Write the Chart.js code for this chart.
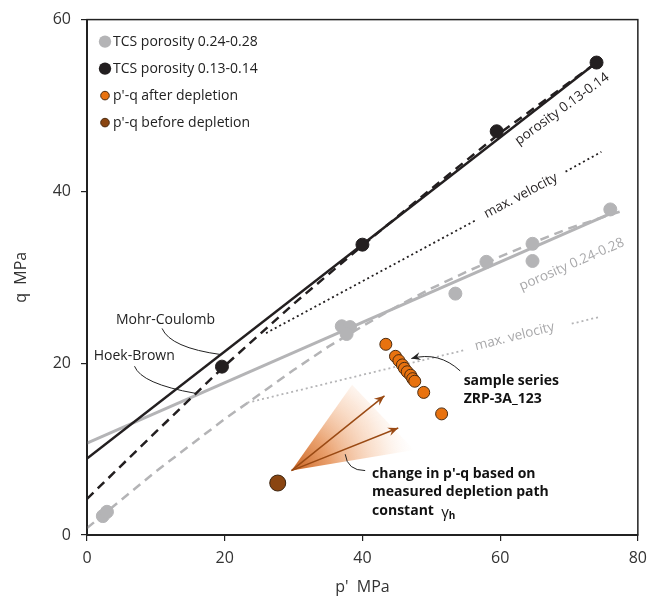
<!DOCTYPE html>
<html>
<head>
<meta charset="utf-8">
<script src="https://cdn.jsdelivr.net/npm/chart.js@4.4.1/dist/chart.umd.min.js"></script>
<style>
  html, body { margin: 0; padding: 0; background: #fff; }
  #wrap { width: 655px; height: 602px; }
</style>
</head>
<body>
<div id="wrap"><canvas id="pq"></canvas></div>
<script>
// TCS data points
let grayP = [2.3, 2.9, 37.0, 38.2, 37.7, 53.5, 58.0, 64.7, 64.7, 76.0];
let grayQ = [2.2, 2.7, 24.3, 24.2, 23.4, 28.1, 31.8, 33.9, 31.9, 37.9];
let blackP = [19.6, 40.0, 59.5, 74.0];
let blackQ = [19.6, 33.8, 47.0, 55.0];

// sample series ZRP-3A_123
let afterP = [43.4, 44.8, 45.3, 45.8, 46.1, 46.5, 47.0, 47.3, 47.6, 48.9, 51.5];
let afterQ = [22.2, 20.8, 20.3, 19.8, 19.4, 19.0, 18.6, 18.2, 17.9, 16.6, 14.1];
let beforeP = [27.7];
let beforeQ = [6.05];

// failure lines (Mohr-Coulomb solid, Hoek-Brown dashed)
let mcBlackP = [0, 74];
let mcBlackQ = [8.9, 55.0];
let mcGrayP = [0, 76];
let mcGrayQ = [10.7, 37.4];
let hbBlackP = [0, 10, 20, 30, 40, 50, 60, 74];
let hbBlackQ = [4.2, 12.0, 19.7, 26.9, 33.7, 40.3, 46.8, 55.0];
let hbGrayP = [0, 10, 20, 30, 35, 40, 45, 50, 55, 60, 65, 70, 78];
let hbGrayQ = [0.8, 7.4, 13.5, 19.2, 21.9, 24.3, 26.6, 28.7, 30.6, 32.4, 34.1, 35.7, 37.8];

// max. velocity lines (gap where the label sits)
let vmaxBlackP = [26.0, 56.6, null, 69.5, 74.7];
let vmaxBlackQ = [23.5, 36.7, null, 42.3, 44.6];
let vmaxGrayP = [23.3, 54.7, null, 70.4, 74.5];
let vmaxGrayQ = [15.4, 21.5, null, 24.6, 25.4];

// depletion path fan (origin, arrow tips, wedge edges)
let fanOrigin = [29.7, 7.5];
let arrowTipP = [43.2, 45.2];
let arrowTipQ = [16.2, 12.45];
let wedgeP = [38.5, 47.5];
let wedgeQ = [17.5, 9.9];

let xTicks = [0, 20, 40, 60, 80];
let yTicks = [0, 20, 40, 60];

let legendLabels = ['TCS porosity 0.24-0.28', 'TCS porosity 0.13-0.14', "p'-q after depletion", "p'-q before depletion"];

const FONT = "'Open Sans', 'Segoe UI', sans-serif";
const GRAY = '#b4b4b6';
const BLACK = '#231f20';
const ORANGE = '#e8720f';
const BROWN = '#8a4511';

function pts(xs, ys) {
  return xs.map((x, i) => ({ x: x, y: ys[i] }));
}

function line(xs, ys, color, width, dash) {
  return {
    data: pts(xs, ys), showLine: true, borderColor: color, backgroundColor: color,
    borderWidth: width, borderDash: dash || [], pointRadius: 0, spanGaps: false, fill: false
  };
}

const datasets = [
  { data: pts(beforeP, beforeQ), backgroundColor: BROWN, borderColor: '#3b2410', borderWidth: 1, pointRadius: 8 },
  { data: pts(afterP, afterQ), backgroundColor: ORANGE, borderColor: '#4a2c12', borderWidth: 1, pointRadius: 6 },
  { data: pts(blackP, blackQ), backgroundColor: BLACK, borderColor: BLACK, pointRadius: 6.5 },
  { data: pts(grayP, grayQ), backgroundColor: GRAY, borderColor: GRAY, pointRadius: 6.5 },
  line(mcBlackP, mcBlackQ, BLACK, 2.5),
  line(hbBlackP, hbBlackQ, BLACK, 2.5, [9, 6]),
  line(mcGrayP, mcGrayQ, GRAY, 3),
  line(hbGrayP, hbGrayQ, GRAY, 2.5, [9, 6]),
  line(vmaxBlackP, vmaxBlackQ, BLACK, 1.8, [2, 3]),
  line(vmaxGrayP, vmaxGrayQ, GRAY, 1.8, [2, 3])
];

function arrowHead(ctx, x0, y0, x1, y1, len, color) {
  const a = Math.atan2(y1 - y0, x1 - x0);
  ctx.fillStyle = color;
  ctx.beginPath();
  ctx.moveTo(x1, y1);
  ctx.lineTo(x1 - len * Math.cos(a - 0.4), y1 - len * Math.sin(a - 0.4));
  ctx.lineTo(x1 - len * 0.6 * Math.cos(a), y1 - len * 0.6 * Math.sin(a));
  ctx.lineTo(x1 - len * Math.cos(a + 0.4), y1 - len * Math.sin(a + 0.4));
  ctx.closePath();
  ctx.fill();
}

function rotText(ctx, chart, text, p, q, deg, color, size) {
  const x = chart.scales.x.getPixelForValue(p);
  const y = chart.scales.y.getPixelForValue(q);
  ctx.save();
  ctx.translate(x, y);
  ctx.rotate(deg * Math.PI / 180);
  ctx.fillStyle = color;
  ctx.font = size + 'px ' + FONT;
  ctx.textAlign = 'center';
  ctx.textBaseline = 'middle';
  ctx.fillText(text, 0, 0);
  ctx.restore();
}

function leader(ctx, chart, a, c, b, arrow) {
  const X = v => chart.scales.x.getPixelForValue(v);
  const Y = v => chart.scales.y.getPixelForValue(v);
  ctx.save();
  ctx.strokeStyle = '#222';
  ctx.lineWidth = 1;
  ctx.beginPath();
  ctx.moveTo(X(a[0]), Y(a[1]));
  ctx.quadraticCurveTo(X(c[0]), Y(c[1]), X(b[0]), Y(b[1]));
  ctx.stroke();
  if (arrow) arrowHead(ctx, X(c[0]), Y(c[1]), X(b[0]), Y(b[1]), 10, '#222');
  ctx.restore();
}

const decor = {
  id: 'decor',
  beforeDatasetsDraw(chart) {
    const ctx = chart.ctx;
    const X = v => chart.scales.x.getPixelForValue(v);
    const Y = v => chart.scales.y.getPixelForValue(v);
    const ox = X(fanOrigin[0]), oy = Y(fanOrigin[1]);
    const r = Math.hypot(X(wedgeP[1]) - ox, Y(wedgeQ[1]) - oy) * 1.05;
    const g = ctx.createRadialGradient(ox, oy, 0, ox, oy, r);
    g.addColorStop(0, 'rgba(196,90,22,0.95)');
    g.addColorStop(0.3, 'rgba(226,128,60,0.75)');
    g.addColorStop(0.7, 'rgba(246,190,150,0.35)');
    g.addColorStop(1, 'rgba(255,255,255,0)');
    ctx.save();
    ctx.fillStyle = g;
    ctx.beginPath();
    ctx.moveTo(ox, oy);
    ctx.lineTo(X(wedgeP[0]), Y(wedgeQ[0]));
    ctx.lineTo(X(wedgeP[1]), Y(wedgeQ[1]));
    ctx.closePath();
    ctx.fill();
    ctx.restore();
  },
  afterDatasetsDraw(chart) {
    const ctx = chart.ctx;
    const a = chart.chartArea;
    const X = v => chart.scales.x.getPixelForValue(v);
    const Y = v => chart.scales.y.getPixelForValue(v);

    // frame
    ctx.save();
    ctx.strokeStyle = '#222';
    ctx.lineWidth = 1.5;
    ctx.strokeRect(a.left, a.top, a.right - a.left, a.bottom - a.top);
    ctx.restore();

    // arrows of the fan
    const ox = X(fanOrigin[0]), oy = Y(fanOrigin[1]);
    ctx.save();
    ctx.strokeStyle = '#9a4a14';
    ctx.lineWidth = 1.5;
    arrowTipP.forEach((p, i) => {
      const tx = X(p), ty = Y(arrowTipQ[i]);
      ctx.beginPath();
      ctx.moveTo(ox, oy);
      ctx.lineTo(tx, ty);
      ctx.stroke();
      arrowHead(ctx, ox, oy, tx, ty, 11, '#9a4a14');
    });
    ctx.restore();

    // rotated line labels
    rotText(ctx, chart, 'porosity 0.13-0.14', 69.0, 49.6, -36, BLACK, 13.5);
    rotText(ctx, chart, 'max. velocity', 63.0, 39.5, -28, BLACK, 13.5);
    rotText(ctx, chart, 'porosity 0.24-0.28', 70.4, 31.5, -23.5, '#a8a8aa', 13.5);
    rotText(ctx, chart, 'max. velocity', 62.1, 23.1, -14, '#a8a8aa', 13.5);

    // plain labels
    ctx.save();
    ctx.fillStyle = '#222';
    ctx.font = '14px ' + FONT;
    ctx.textAlign = 'center';
    ctx.textBaseline = 'middle';
    ctx.fillText('Mohr-Coulomb', X(11.4), Y(25.05));
    ctx.fillText('Hoek-Brown', X(6.86), Y(20.8));
    ctx.restore();
    leader(ctx, chart, [10.9, 24.05], [12.1, 21.8], [19.5, 21.0]);
    leader(ctx, chart, [6.9, 19.65], [7.9, 17.6], [15.7, 16.5]);

    // bold callouts
    ctx.save();
    ctx.fillStyle = '#111';
    ctx.font = 'bold 14px ' + FONT;
    ctx.textAlign = 'left';
    ctx.textBaseline = 'middle';
    ctx.fillText('sample series', X(54.7), Y(17.9));
    ctx.fillText('ZRP-3A_123', X(54.7), Y(15.8));
    ctx.fillText("change in p'-q based on", X(41.4), Y(7.15));
    ctx.fillText('measured depletion path', X(41.4), Y(4.95));
    const cx = X(41.4), cy = Y(2.75);
    ctx.fillText('constant', cx, cy);
    const w = ctx.measureText('constant  ').width;
    ctx.font = '15px ' + FONT;
    ctx.fillText('\u03b3', cx + w, cy + 1);
    const wg = ctx.measureText('\u03b3').width;
    ctx.font = 'bold 10px ' + FONT;
    ctx.fillText('h', cx + w + wg, cy + 5);
    ctx.restore();
    leader(ctx, chart, [54.2, 19.1], [51.1, 21.4], [47.1, 20.55], true);
    leader(ctx, chart, [40.4, 7.5], [37.8, 7.5], [37.5, 9.4]);

    // legend
    const colors = [GRAY, BLACK, ORANGE, BROWN];
    const radii = [6.2, 6.2, 4.3, 4.3];
    ctx.save();
    ctx.font = '14px ' + FONT;
    ctx.textBaseline = 'middle';
    legendLabels.forEach((t, i) => {
      const ly = a.top + 22 + i * 27;
      const lx = a.left + 18;
      ctx.beginPath();
      ctx.arc(lx, ly, radii[i], 0, Math.PI * 2);
      ctx.fillStyle = colors[i];
      ctx.fill();
      if (i > 1) { ctx.strokeStyle = '#4a2c12'; ctx.lineWidth = 1; ctx.stroke(); }
      ctx.fillStyle = '#222';
      ctx.fillText(t, lx + 8, ly);
    });
    ctx.restore();
  }
};

new Chart(document.getElementById('pq'), {
  type: 'scatter',
  data: { datasets: datasets },
  options: {
    responsive: true,
    maintainAspectRatio: false,
    animation: false,
    layout: { padding: { top: 16, right: 8, left: 0, bottom: 0 } },
    plugins: { legend: { display: false }, tooltip: { enabled: false } },
    scales: {
      x: {
        type: 'linear', min: 0, max: 80,
        afterBuildTicks: s => { s.ticks = xTicks.map(v => ({ value: v })); },
        ticks: { font: { family: FONT, size: 16 }, color: '#333', padding: 8, maxRotation: 0 },
        grid: { drawOnChartArea: false, tickLength: 6, color: '#222', lineWidth: 1.2 },
        border: { color: '#222', width: 2 },
        title: { display: true, text: "p'  MPa", font: { family: FONT, size: 16 }, color: '#333', padding: { top: 4, bottom: 5 } },
        afterFit: s => { s.height = 67; }
      },
      y: {
        type: 'linear', min: 0, max: 60,
        afterBuildTicks: s => { s.ticks = yTicks.map(v => ({ value: v })); },
        ticks: { font: { family: FONT, size: 16 }, color: '#333', padding: 10 },
        grid: { drawOnChartArea: false, tickLength: 6, color: '#222', lineWidth: 1.2 },
        border: { color: '#222', width: 2 },
        title: { display: true, text: 'q  MPa', font: { family: FONT, size: 16 }, color: '#333', padding: { top: 12, bottom: 4 } },
        afterFit: s => { s.width = 87; }
      }
    }
  },
  plugins: [decor]
});
</script>
</body>
</html>
